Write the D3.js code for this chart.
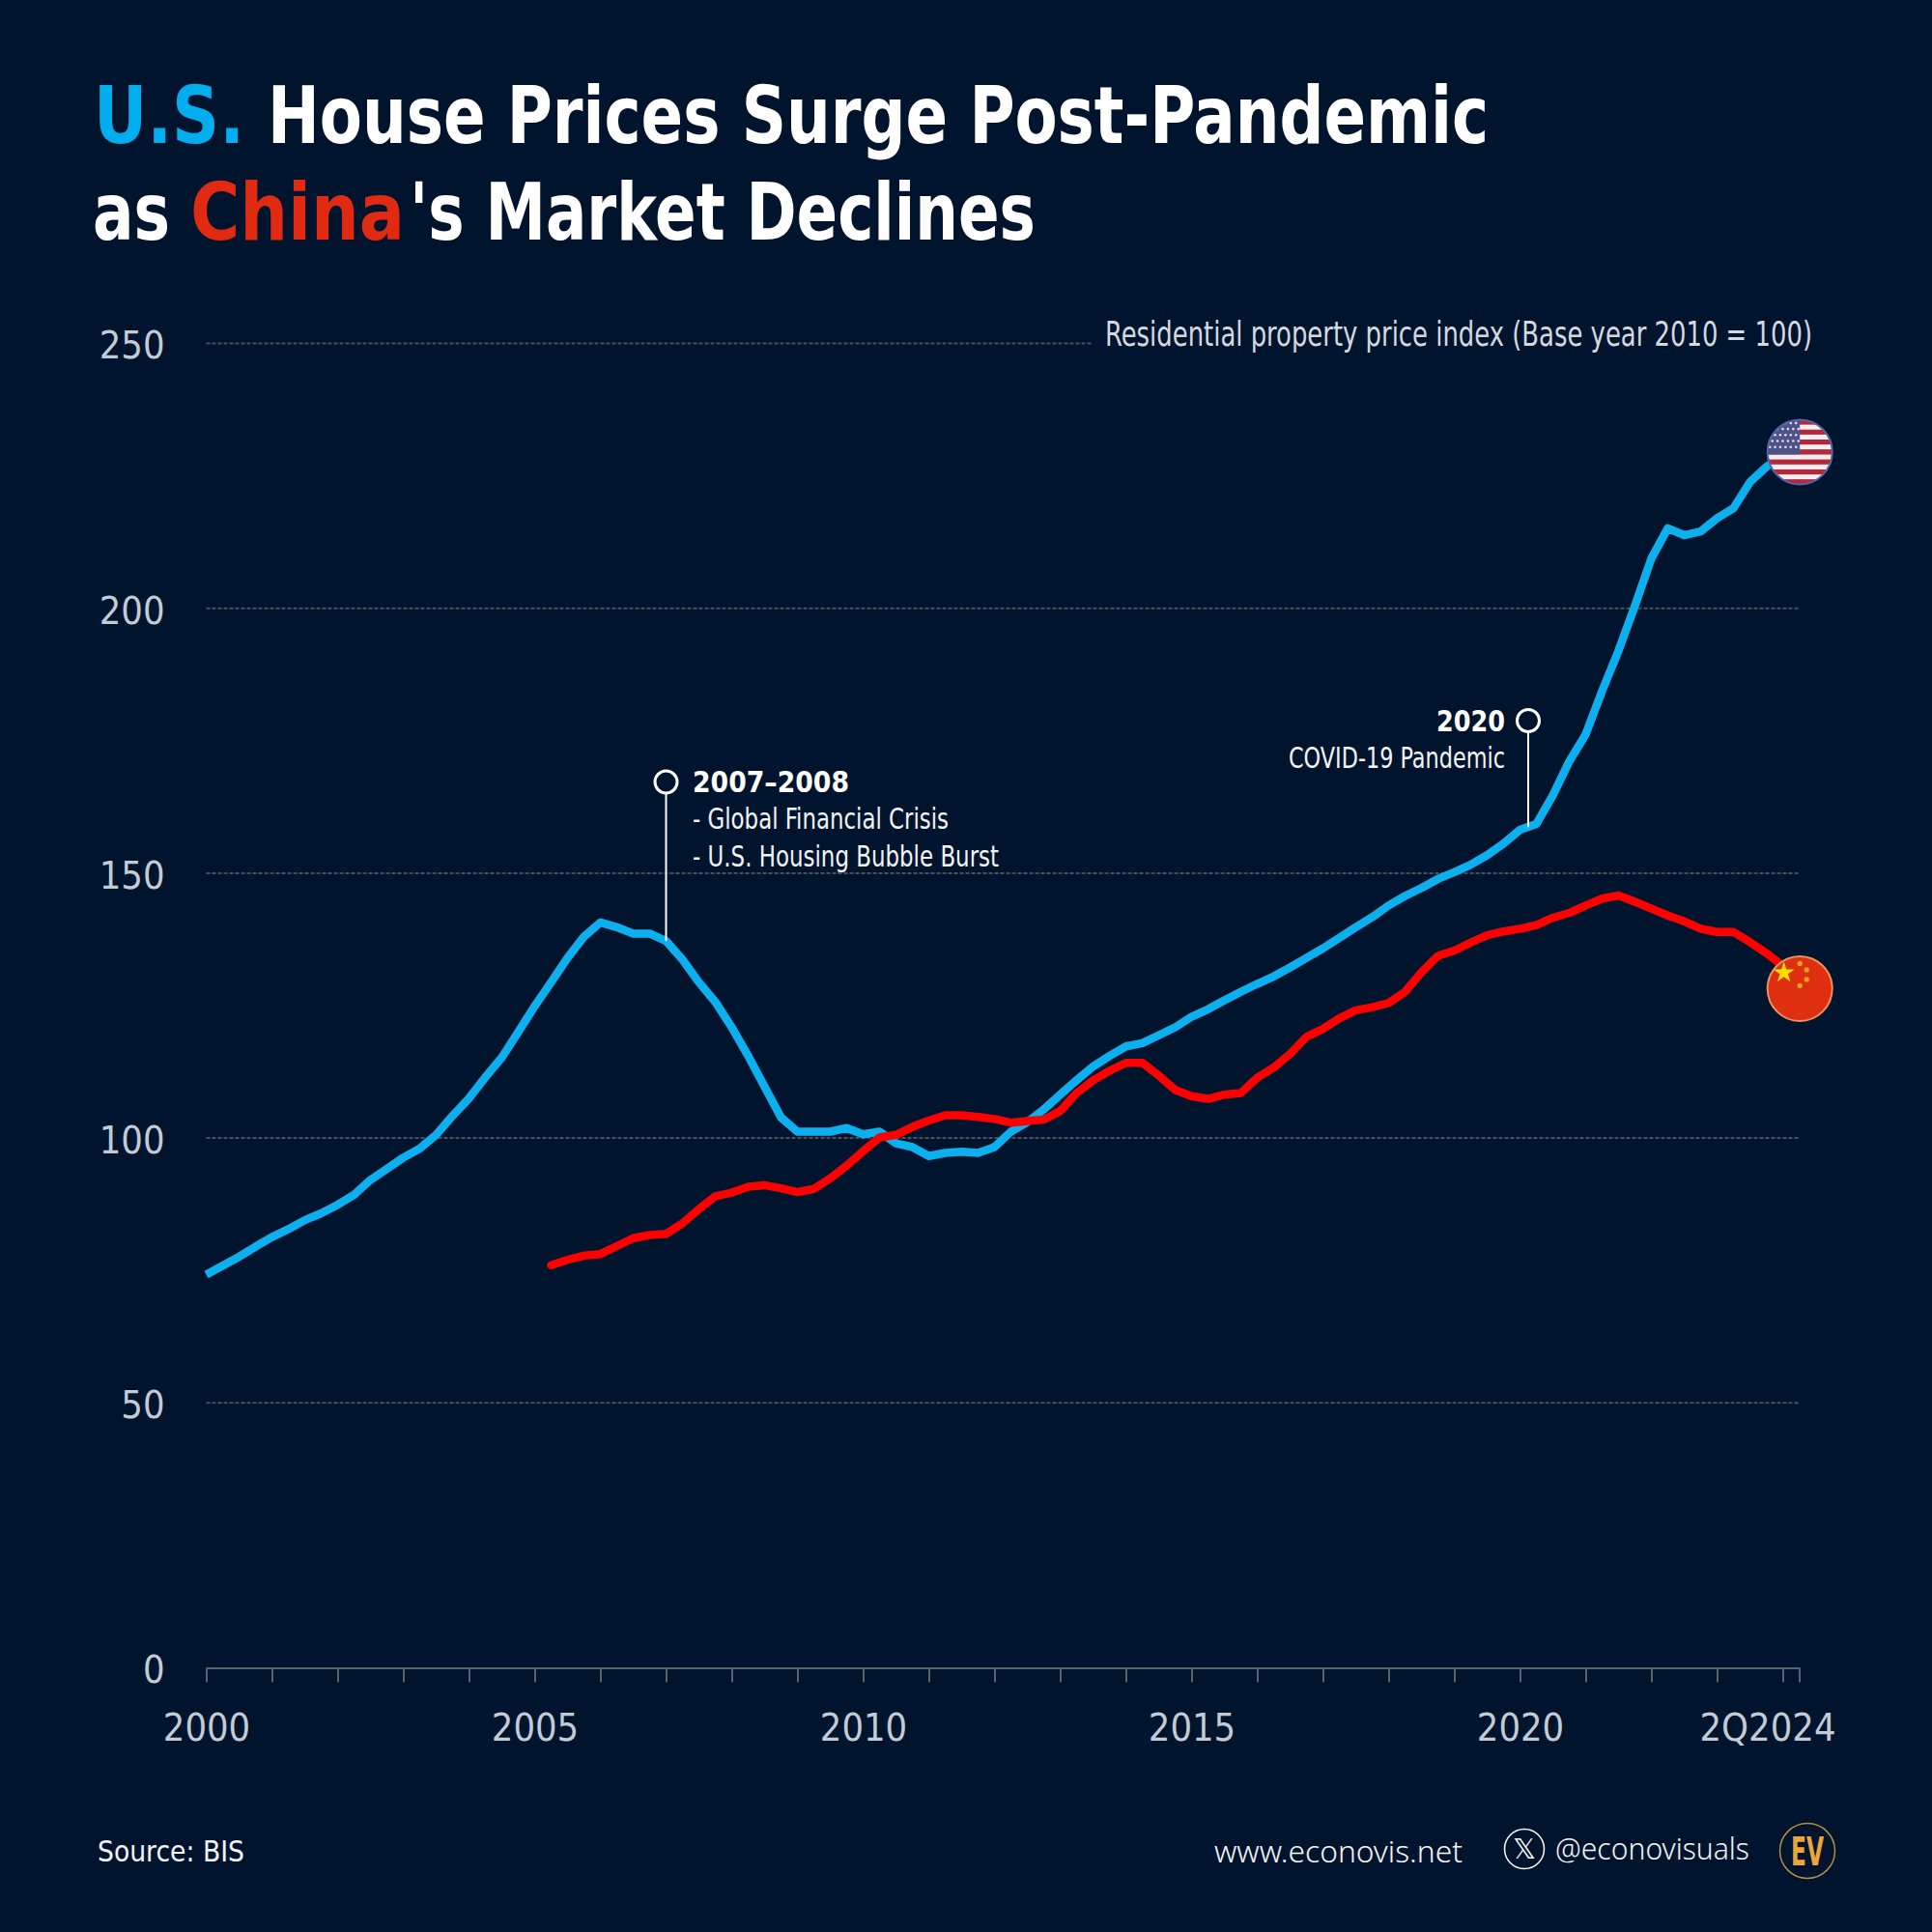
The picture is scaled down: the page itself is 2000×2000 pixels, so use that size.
<!DOCTYPE html>
<html>
<head>
<meta charset="utf-8">
<script src="https://cdn.jsdelivr.net/npm/d3@7"></script>
<style>
  body { margin: 0; background: #01142d; }
  text { font-family: "DejaVu Sans", sans-serif; font-stretch: condensed; }
  .axis path, .axis line { stroke: #59626f; stroke-width: 2; }
  .axis text { font-size: 39.5px; fill: #c3cbd6; }
  .grid line { stroke: #4b5157; stroke-width: 2; stroke-dasharray: 4 2; }
</style>
</head>
<body>
<div id="chart"></div>
<script>
// quarterly index, 0 = 1Q2000, 97 = 2Q2024
var yTicks = [0, 50, 100, 150, 200, 250];
var yearTicks = [0, 4, 8, 12, 16, 20, 24, 28, 32, 36, 40, 44, 48, 52, 56, 60, 64, 68, 72, 76, 80, 84, 88, 92, 96, 97];
var xLabels = {0: "2000", 20: "2005", 40: "2010", 60: "2015", 80: "2020", 97: "2Q2024"};

var usValues = [
    74.2, 75.9, 77.6, 79.5, 81.3, 82.8, 84.5, 85.8, 87.4, 89.3,
    92.1, 94.2, 96.3, 98.0, 100.6, 104.2, 107.5, 111.5, 115.2, 120.0,
    124.9, 129.4, 134.0, 138.0, 140.7, 139.8, 138.6, 138.6, 137.2, 133.7,
    129.4, 125.7, 120.9, 115.5, 109.7, 103.9, 101.2, 101.2, 101.2, 101.9,
    100.7, 101.2, 99.0, 98.3, 96.6, 97.2, 97.4, 97.2, 98.3, 101.2,
    103.0, 105.4, 108.2, 110.9, 113.5, 115.5, 117.3, 117.9, 119.4, 120.9,
    122.9, 124.3, 126.0, 127.6, 129.1, 130.5, 132.2, 134.0, 135.8, 137.8,
    139.8, 141.7, 143.9, 145.7, 147.2, 148.9, 150.2, 151.6, 153.4, 155.6,
    158.2, 159.3, 164.7, 171.1, 176.2, 184.4, 192.0, 200.5, 209.4, 215.1,
    213.8, 214.5, 217.0, 218.9, 223.8, 226.7, 228.8, 229.5
];

// China series starts in 2Q2005
var chinaStart = 21;
var chinaValues = [
    76.0, 77.0, 77.8, 78.1, 79.6, 81.1, 81.7, 81.9, 83.9,
    86.6, 89.0, 89.7, 90.8, 91.1, 90.5, 89.8, 90.4, 92.4, 94.8,
    97.5, 100.1, 100.6, 102.1, 103.3, 104.3, 104.3, 104.0, 103.6, 102.9,
    103.2, 103.5, 105.1, 108.5, 110.9, 112.7, 114.2, 114.2, 111.8, 109.1,
    107.9, 107.4, 108.2, 108.5, 111.4, 113.3, 115.9, 119.1, 120.6, 122.6,
    124.1, 124.7, 125.5, 127.6, 131.3, 134.4, 135.4, 136.9, 138.3, 139.0,
    139.5, 140.2, 141.6, 142.5, 143.9, 145.2, 145.8, 144.6, 143.3, 142.0,
    140.9, 139.5, 138.9, 138.9, 137.0, 134.9, 132.5, 128.2
];

var bg = "#01142d", usBlue = "#0cb0ef", chinaRed = "#ff0000";

var svg = d3.select("#chart").append("svg")
    .attr("width", 2000)
    .attr("height", 2000)
    .style("display", "block");

svg.append("rect").attr("width", 2000).attr("height", 2000).attr("fill", bg);

var x = d3.scaleLinear().domain([0, 97]).range([213.5, 1862.5]);
var y = d3.scaleLinear().domain([0, 250]).range([1726.5, 355.5]);

// text squeezed to the width measured on the picture
function label(str, px, py, size, width, color, opts) {
    opts = opts || {};
    return svg.append("text")
        .attr("x", px)
        .attr("y", py)
        .attr("font-size", size)
        .attr("font-weight", opts.weight || 400)
        .attr("text-anchor", opts.anchor || "start")
        .attr("textLength", width)
        .attr("lengthAdjust", "spacingAndGlyphs")
        .attr("fill", color)
        .style("font-family", opts.family || null)
        .text(str);
}

// title
label("U.S.", 97, 148, 82, 156, "#00aeef", {weight: 700});
label("House Prices Surge Post-Pandemic", 277, 148, 82, 1264, "#ffffff", {weight: 700});
label("as", 96, 248, 82, 80, "#ffffff", {weight: 700});
label("China", 197, 248, 82, 222, "#e12a12", {weight: 700});
label("'s Market Declines", 424, 248, 82, 648, "#ffffff", {weight: 700});

// grid, the 250 line stops where the subtitle begins
svg.append("g").attr("class", "grid")
    .selectAll("line")
    .data(yTicks.filter(d => d > 0))
    .enter().append("line")
    .attr("x1", x(0))
    .attr("x2", d => d === 250 ? 1131 : x(97))
    .attr("y1", d => y(d))
    .attr("y2", d => y(d));

// y axis, labels only
var yAxis = svg.append("g").attr("class", "axis")
    .attr("transform", `translate(${x(0)}, 0)`)
    .call(d3.axisLeft(y).tickValues(yTicks).tickSize(0).tickPadding(43));
yAxis.select(".domain").remove();
yAxis.selectAll("text").attr("dy", "0.39em");

// x axis
var xAxis = svg.append("g").attr("class", "axis")
    .attr("transform", `translate(0, ${y(0)})`)
    .call(d3.axisBottom(x)
        .tickValues(yearTicks)
        .tickSize(15)
        .tickSizeOuter(0)
        .tickPadding(32)
        .tickFormat(d => xLabels[d] || ""));
xAxis.selectAll(".tick text")
    .filter(d => d === 97)
    .attr("text-anchor", "end")
    .attr("dx", 37.5);

label("Residential property price index (Base year 2010 = 100)", 1876, 357.5, 36, 732, "#d4d9e0", {anchor: "end"});

// series
var line = d3.line().x(d => x(d.i)).y(d => y(d.v)).curve(d3.curveLinear);
var usData = usValues.map((v, i) => ({i: i, v: v}));
var chinaData = chinaValues.map((v, i) => ({i: i + chinaStart, v: v}));

svg.append("path").datum(usData)
    .attr("d", line)
    .attr("fill", "none")
    .attr("stroke", usBlue)
    .attr("stroke-width", 8.5)
    .attr("stroke-linejoin", "round");

svg.append("path").datum(chinaData)
    .attr("d", line)
    .attr("fill", "none")
    .attr("stroke", chinaRed)
    .attr("stroke-width", 8.5)
    .attr("stroke-linecap", "round")
    .attr("stroke-linejoin", "round");

// annotations
function marker(i, cy, yEnd) {
    svg.append("line")
        .attr("x1", x(i)).attr("x2", x(i))
        .attr("y1", cy + 12).attr("y2", yEnd)
        .attr("stroke", "#ffffff").attr("stroke-width", 2);
    svg.append("circle")
        .attr("cx", x(i)).attr("cy", cy).attr("r", 11.5)
        .attr("fill", bg).attr("stroke", "#ffffff").attr("stroke-width", 3);
}

marker(28, 809.5, y(137.2));
label("2007–2008", 717, 820, 30, 162, "#ffffff", {weight: 700});
label("- Global Financial Crisis", 717, 858, 31, 265, "#f2f4f7");
label("- U.S. Housing Bubble Burst", 717, 897, 31, 317, "#f2f4f7");

marker(80.5, 746, y(158.7));
label("2020", 1487, 757, 30, 71, "#ffffff", {weight: 700});
label("COVID-19 Pandemic", 1334, 795, 31, 224, "#f2f4f7");

// flags
var flagX = x(97) + 0.7, flagR = 33.5;
var defs = svg.append("defs");
defs.append("clipPath").attr("id", "usClip")
    .append("circle").attr("cx", flagX).attr("cy", y(229.5)).attr("r", flagR);

var usFlag = svg.append("g").attr("clip-path", "url(#usClip)");
var flagTop = y(229.5) - flagR, stripeH = 2 * flagR / 13;
usFlag.selectAll("rect.stripe")
    .data(d3.range(13))
    .enter().append("rect")
    .attr("class", "stripe")
    .attr("x", flagX - 34)
    .attr("y", d => flagTop + d * stripeH)
    .attr("width", 68)
    .attr("height", stripeH + 0.3)
    .attr("fill", d => d % 2 ? "#f5eef0" : "#b5283c");
usFlag.append("rect")
    .attr("x", flagX - 34).attr("y", flagTop)
    .attr("width", 34).attr("height", stripeH * 7)
    .attr("fill", "#4d5288");
d3.range(5).forEach(r => {
    d3.range(6).forEach(c => {
        usFlag.append("circle")
            .attr("cx", flagX - 31 + c * 5.4 + (r % 2) * 2.5)
            .attr("cy", flagTop + 3.5 + r * 6.2)
            .attr("r", 1.3)
            .attr("fill", "#dfe0ea");
    });
});
svg.append("circle")
    .attr("cx", flagX).attr("cy", y(229.5)).attr("r", flagR)
    .attr("fill", "none").attr("stroke", "#5566a8").attr("stroke-width", 2);

var cnY = y(128.2);
svg.append("circle")
    .attr("cx", flagX).attr("cy", cnY).attr("r", flagR)
    .attr("fill", "#de2f10").attr("stroke", "#e8935c").attr("stroke-width", 2);
svg.append("path")
    .attr("d", d3.symbol().type(d3.symbolStar).size(150))
    .attr("transform", `translate(${flagX - 16.5}, ${cnY - 16.5})`)
    .attr("fill", "#ffdd00");
[[0, -26], [7, -19.5], [7, -9.5], [0, -3]].forEach(p => {
    svg.append("circle")
        .attr("cx", flagX + p[0]).attr("cy", cnY + p[1]).attr("r", 2.6)
        .attr("fill", "#f7a21b");
});

// footer
label("Source: BIS", 101, 1927, 31, 152, "#f2f4f7");
label("www.econovis.net", 1257, 1928, 31, 257, "#f2f4f7", {family: '"Noto Sans"', weight: 300});
svg.append("circle")
    .attr("cx", 1578).attr("cy", 1914).attr("r", 20.5)
    .attr("fill", "none").attr("stroke", "#ffffff").attr("stroke-width", 1.5);
label("𝕏", 1578, 1924, 28, 24, "#ffffff", {anchor: "middle"});
label("@econovisuals", 1610, 1925, 31, 201, "#f2f4f7", {family: '"Noto Sans"', weight: 300});
svg.append("circle")
    .attr("cx", 1871).attr("cy", 1916).attr("r", 28.5)
    .attr("fill", "none").attr("stroke", "#b58c45").attr("stroke-width", 1.5);
label("EV", 1871, 1931, 40, 34, "#e9a63c", {anchor: "middle", weight: 700});
</script>
</body>
</html>
